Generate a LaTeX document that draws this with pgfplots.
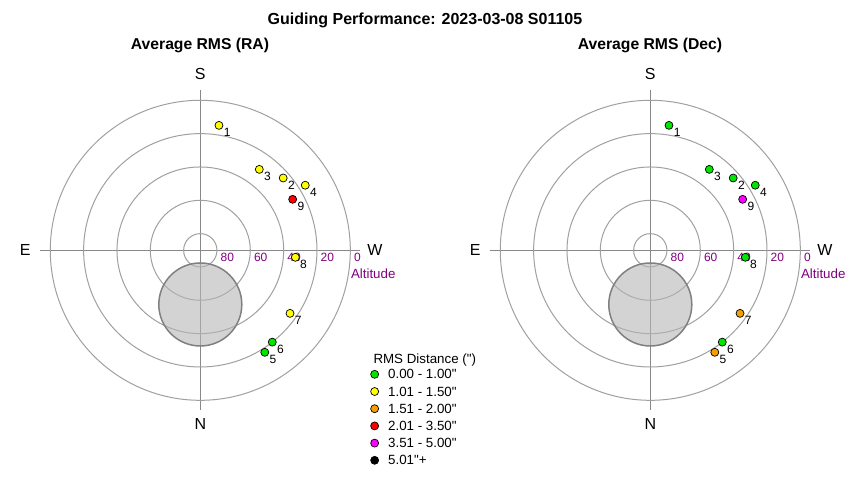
\documentclass[border=0pt]{standalone}
\usepackage{fontspec}
\setmainfont{Liberation Sans}
\newfontfamily\plainsans{Liberation Sans}
\usepackage{pgfplots}
\pgfplotsset{compat=1.18}
\usepackage{pgfplotstable}
\usepgfplotslibrary{polar}

\definecolor{ringgray}{HTML}{A0A0A0}
\definecolor{axgray}{HTML}{888888}
\definecolor{zenfill}{HTML}{B5B5B5}
\definecolor{zenline}{HTML}{808080}
\definecolor{altpurple}{HTML}{800080}
\definecolor{cgreen}{HTML}{00E600}
\definecolor{cyellow}{HTML}{FFFF00}
\definecolor{corange}{HTML}{F5A000}
\definecolor{cred}{HTML}{FF0000}
\definecolor{cmag}{HTML}{FF00FF}

% guide points: azimuth (N=0, E=90) and altitude in degrees, grouped by RMS class
% RA
\pgfplotstableread{
n az    alt
5 327.7 17.6
6 321.9 20.0
}\raGreen
\pgfplotstableread{
n az    alt
1 188.5 14.2
2 228.9 24.0
3 216.1 29.9
4 238.2 15.9
7 305.1 24.2
8 274.2 32.8
}\raYellow
\pgfplotstableread{
n az    alt
9 241.1 26.7
}\raRed
% Dec
\pgfplotstableread{
n az    alt
1 188.5 14.2
2 228.9 24.0
3 216.1 29.9
4 238.2 15.9
6 321.9 20.0
8 274.2 32.8
}\decGreen
\pgfplotstableread{
n az    alt
5 327.7 17.6
7 305.1 24.2
}\decOrange
\pgfplotstableread{
n az    alt
9 241.1 26.7
}\decMagenta

\newcommand{\lbl}{\fontsize{12}{14}\selectfont}

\tikzset{
  ringlbl/.style={anchor=north west, inner sep=0pt, xshift=3.5pt, yshift=-2.7pt,
    font=\lbl, text=altpurple},
  compass/.style={font=\fontsize{16}{18}\selectfont},
}

\pgfplotsset{
  skyplot/.style={
    scale only axis, width=320pt, height=320pt,
    xmin=0, xmax=360, ymin=0, ymax=96,
    xtick={0,90,180,270}, ytick={10,30,50,70,90},
    xticklabels={}, yticklabels={},
    major tick length=0pt,
    grid=major,
    x grid style={axgray, line width=1pt},
    y grid style={ringgray, line width=1pt},
    axis line style={draw=none},
    clip=false, anchor=center,
  },
  rms/.style={
    forget plot, only marks, mark=*, mark size=4pt,
    mark options={draw=black, fill=#1, line width=0.7pt},
    point meta=explicit symbolic,
    nodes near coords,
    every node near coord/.style={anchor=north west, inner sep=0pt,
      xshift=4.5pt, yshift=-2.4pt, font=\lbl, text=black},
  },
  zenith/.style={forget plot, only marks, mark=*, mark size=41.5pt,
    mark options={fill=zenfill, fill opacity=0.6, draw=zenline, line width=1.5pt}},
}

% #1 table, #2 colour
\newcommand{\rmsplot}[2]{%
  \addplot[rms=#2]
    table[x expr={270-\thisrow{az}}, y expr={90-\thisrow{alt}}, meta=n] {#1};
}

\newcommand{\skylabels}{%
  \node[compass] at (axis cs:90,105.6) {S};
  \node[compass] at (axis cs:270,104.3) {N};
  \node[compass] at (axis cs:180,105) {E};
  \node[compass] at (axis cs:0,104.8) {W};
  \node[ringlbl] at (axis cs:0,10) {80};
  \node[ringlbl] at (axis cs:0,30) {60};
  \node[ringlbl] at (axis cs:0,50) {40};
  \node[ringlbl] at (axis cs:0,70) {20};
  \node[ringlbl] at (axis cs:0,90) {0};
  \node[anchor=north west, inner sep=0pt, xshift=0.5pt, yshift=-18pt,
    font=\fontsize{13.33}{15}\selectfont, text=altpurple] at (axis cs:0,90) {Altitude};
}

\begin{document}
\plainsans
\begin{tikzpicture}
\path (0pt,0pt) rectangle (850pt,480pt);

\node[anchor=base, inner sep=0pt, font=\fontsize{16}{18}\selectfont\bfseries] at (425pt,455pt) {Guiding Performance: 2023-03-08 S01105};
\node[anchor=base, inner sep=0pt, font=\fontsize{15.7}{18}\selectfont\bfseries] at (200pt,430.7pt) {Average RMS (RA)};
\node[anchor=base, inner sep=0pt, font=\fontsize{15.7}{18}\selectfont\bfseries] at (650pt,430.7pt) {Average RMS (Dec)};
\node[anchor=base west, inner sep=0pt, font=\fontsize{13.33}{15}\selectfont] at (373.3pt,116.7pt) {RMS Distance (")};

\begin{polaraxis}[skyplot, at={(200.3pt,229.7pt)},
  legend style={draw=none, fill=none, inner sep=0pt, outer sep=0pt,
    at={(axis description cs:1.0323,0.13125)}, anchor=north west,
    row sep=5.2pt, font=\fontsize{13.33}{15}\selectfont,
    nodes={inner sep=0pt, text height=10.5pt, text depth=1.5pt},
    /tikz/every odd column/.append style={column sep=9.5pt}},
  legend cell align=left,
  legend image code/.code={\draw[#1] plot coordinates {(0pt,0pt)};},
]
\addplot[zenith] coordinates {(270,32.5)};
\skylabels
\rmsplot{\raGreen}{cgreen}
\rmsplot{\raYellow}{cyellow}
\rmsplot{\raRed}{cred}
\addlegendimage{only marks, mark=*, mark size=4pt, mark options={draw=black, fill=cgreen, line width=0.7pt}}
\addlegendentry{0.00 - 1.00"}
\addlegendimage{only marks, mark=*, mark size=4pt, mark options={draw=black, fill=cyellow, line width=0.7pt}}
\addlegendentry{1.01 - 1.50"}
\addlegendimage{only marks, mark=*, mark size=4pt, mark options={draw=black, fill=corange, line width=0.7pt}}
\addlegendentry{1.51 - 2.00"}
\addlegendimage{only marks, mark=*, mark size=4pt, mark options={draw=black, fill=cred, line width=0.7pt}}
\addlegendentry{2.01 - 3.50"}
\addlegendimage{only marks, mark=*, mark size=4pt, mark options={draw=black, fill=cmag, line width=0.7pt}}
\addlegendentry{3.51 - 5.00"}
\addlegendimage{only marks, mark=*, mark size=4pt, mark options={draw=black, fill=black, line width=0.7pt}}
\addlegendentry{5.01"+}
\end{polaraxis}

\begin{polaraxis}[skyplot, at={(650.3pt,229.7pt)}]
\addplot[zenith] coordinates {(270,32.5)};
\skylabels
\rmsplot{\decGreen}{cgreen}
\rmsplot{\decOrange}{corange}
\rmsplot{\decMagenta}{cmag}
\end{polaraxis}
\end{tikzpicture}
\end{document}
